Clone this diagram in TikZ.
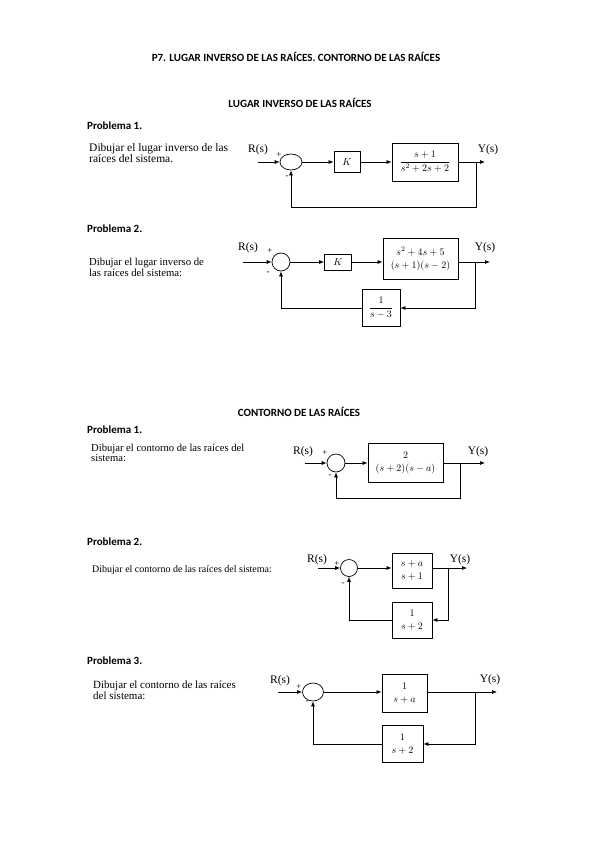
\documentclass[tikz,border=0pt]{standalone}
\usepackage{amsmath}
\usepackage{fontspec}
\setmainfont{Liberation Serif}
\newfontfamily\headfont{Carlito}
\usetikzlibrary{arrows.meta,shapes.geometric}
\newcommand{\nb}[2]{\genfrac{}{}{0pt}{0}{#1}{#2}}
\begin{document}
\begin{tikzpicture}[x=1pt,y=-1pt,
  head/.style={font=\headfont\bfseries\fontsize{11}{13}\selectfont, inner sep=0},
  txt/.style={anchor=base west, inner sep=0},
  sum/.style={draw, ellipse, minimum width=18pt, minimum height=18pt, inner sep=0, line width=0.7pt},
  blk/.style={draw, rectangle, inner sep=0, line width=0.8pt},
  lab/.style={font=\fontsize{11.5}{12}\selectfont, inner sep=0},
  sgn/.style={font=\fontsize{9}{10}\selectfont, inner sep=0},
  arr/.style={line width=0.7pt, -{Latex[length=5pt,width=4pt]}},
]
\useasboundingbox (0,0) rectangle (599,848);
\fill[white] (0,0) rectangle (599,848);

% headings
\node[head] (title) at (296,57) {P7. LUGAR INVERSO DE LAS RAÍCES. CONTORNO DE LAS RAÍCES};
\node[head] (h1) at (300,103) {LUGAR INVERSO DE LAS RAÍCES};
\node[head, anchor=west] (p11) at (87,126) {Problema 1.};
\node[head, anchor=west] (p12) at (87,229) {Problema 2.};
\node[head] (h2) at (299,412) {CONTORNO DE LAS RAÍCES};
\node[head, anchor=west] (p21) at (87,430) {Problema 1.};
\node[head, anchor=west] (p22) at (87,542) {Problema 2.};
\node[head, anchor=west] (p23) at (87,661) {Problema 3.};

% texts
\node[txt, font=\fontsize{11.5}{13}\selectfont] (t1a) at (89,151) {Dibujar el lugar inverso de las};
\node[txt, font=\fontsize{11.5}{13}\selectfont] (t1b) at (89,162) {raíces del sistema.};
\node[txt, font=\fontsize{10.7}{13}\selectfont] (t2a) at (89,265) {Dibujar el lugar inverso de};
\node[txt, font=\fontsize{10.7}{13}\selectfont] (t2b) at (89,276) {las raíces del sistema:};
\node[txt, font=\fontsize{10.6}{13}\selectfont] (t3a) at (91,451) {Dibujar el contorno de las raíces del};
\node[txt, font=\fontsize{10.6}{13}\selectfont] (t3b) at (91,461) {sistema:};
\node[txt, font=\fontsize{10}{12}\selectfont] (t4a) at (92,572) {Dibujar el contorno de las raíces del sistema:};
\node[txt, font=\fontsize{11}{13}\selectfont] (t5a) at (93,688) {Dibujar el contorno de las raíces};
\node[txt, font=\fontsize{11}{13}\selectfont] (t5b) at (93,699) {del sistema:};

% ---------- Diagram 1 ----------
\node[lab] (r1) at (258,150) {R(s)};
\coordinate (in1) at (258,162);
\node[sum, minimum width=22pt, minimum height=16pt] (s1) at (291,162) {};
\node[sgn] (p1) at (279,155) {+};
\node[sgn] (m1) at (287,177) {-};
\node[blk, minimum width=26pt, minimum height=21pt] (k1) at (347,162) {$K$};
\node[blk, minimum width=66pt, minimum height=38pt] (g1) at (425,162) {$\dfrac{s+1}{s^2+2s+2}$};
\coordinate (o1) at (485,162);
\node[lab] (y1) at (488,150) {Y(s)};
\coordinate (b1) at (476,162);
\coordinate (f1) at (476,207);
\draw[arr] (in1) -- (s1);
\draw[arr] (s1) -- (k1);
\draw[arr] (k1) -- (g1);
\draw[arr] (g1) -- (o1);
\draw[arr] (b1) -- (f1) -| (s1);

% ---------- Diagram 2 ----------
\node[lab] (r2) at (248,248) {R(s)};
\coordinate (in2) at (243,262);
\node[sum] (s2) at (281,262) {};
\node[sgn] (p2) at (270,251) {+};
\node[sgn] (m2) at (268,273) {-};
\node[blk, minimum width=27pt, minimum height=16pt] (k2) at (338,262) {$K$};
\node[blk, minimum width=75pt, minimum height=41pt] (g2) at (420.5,259) {$\nb{s^2+4s+5}{(s+1)(s-2)}$};
\coordinate (o2) at (490,262);
\node[lab] (y2) at (485,248) {Y(s)};
\coordinate (b2) at (475,262);
\coordinate (f2) at (475,308);
\node[blk, minimum width=38pt, minimum height=37pt] (fb2) at (381,308) {$\dfrac{1}{s-3}$};
\draw[arr] (in2) -- (s2);
\draw[arr] (s2) -- (k2);
\draw[arr] (k2) -- (k2 -| g2.west);
\draw[arr] (g2.east |- s2) -- (o2);
\draw[arr] (b2) -- (f2) -- (fb2);
\draw[arr] (fb2) -| (s2);

% ---------- Diagram 3 ----------
\node[lab] (r3) at (303,452) {R(s)};
\coordinate (in3) at (305,463);
\node[sum] (s3) at (336,463) {};
\node[sgn] (p3) at (325,453) {+};
\node[sgn] (m3) at (330,476) {-};
\node[blk, minimum width=75pt, minimum height=39pt] (g3) at (405.5,463) {$\nb{2}{(s+2)(s-a)}$};
\coordinate (o3) at (485,463);
\node[lab] (y3) at (478,452) {Y(s)};
\coordinate (b3) at (460,463);
\coordinate (f3) at (460,498);
\draw[arr] (in3) -- (s3);
\draw[arr] (s3) -- (g3);
\draw[arr] (g3) -- (o3);
\draw[arr] (b3) -- (f3) -| (s3);

% ---------- Diagram 4 ----------
\node[lab] (r4) at (317,560) {R(s)};
\coordinate (in4) at (318,568);
\node[sum, minimum width=17pt, minimum height=17pt] (s4) at (349,568) {};
\node[sgn] (p4) at (337,564) {+};
\node[sgn] (m4) at (343,584) {-};
\node[blk, minimum width=40pt, minimum height=35pt] (g4) at (412,570.5) {$\nb{s+a}{s+1}$};
\coordinate (o4) at (467,568);
\node[lab] (y4) at (460,560) {Y(s)};
\coordinate (b4) at (448,568);
\coordinate (f4) at (448,620);
\node[blk, minimum width=40pt, minimum height=36pt] (fb4) at (412,620) {$\nb{1}{s+2}$};
\draw[arr] (in4) -- (s4);
\draw[arr] (s4) -- (s4 -| g4.west);
\draw[arr] (g4.east |- s4) -- (o4);
\draw[arr] (b4) -- (f4) -- (fb4);
\draw[arr] (fb4) -| (s4);

% ---------- Diagram 5 ----------
\node[lab] (r5) at (280,681) {R(s)};
\coordinate (in5) at (278,692);
\node[sum, minimum width=21pt, minimum height=18pt] (s5) at (313,692) {};
\node[sgn] (p5) at (299,687) {+};
\node[sgn] (m5) at (307,702) {-};
\node[blk, minimum width=45pt, minimum height=38pt] (g5) at (404.5,693) {$\nb{1}{s+a}$};
\coordinate (o5) at (497,692);
\node[lab] (y5) at (490,680) {Y(s)};
\coordinate (b5) at (475,692);
\coordinate (f5) at (475,744);
\node[blk, minimum width=41pt, minimum height=37pt] (fb5) at (402.5,744) {$\nb{1}{s+2}$};
\draw[arr] (in5) -- (s5);
\draw[arr] (s5) -- (s5 -| g5.west);
\draw[arr] (g5.east |- s5) -- (o5);
\draw[arr] (b5) -- (f5) -- (fb5);
\draw[arr] (fb5) -| (s5);
\end{tikzpicture}
\end{document}
